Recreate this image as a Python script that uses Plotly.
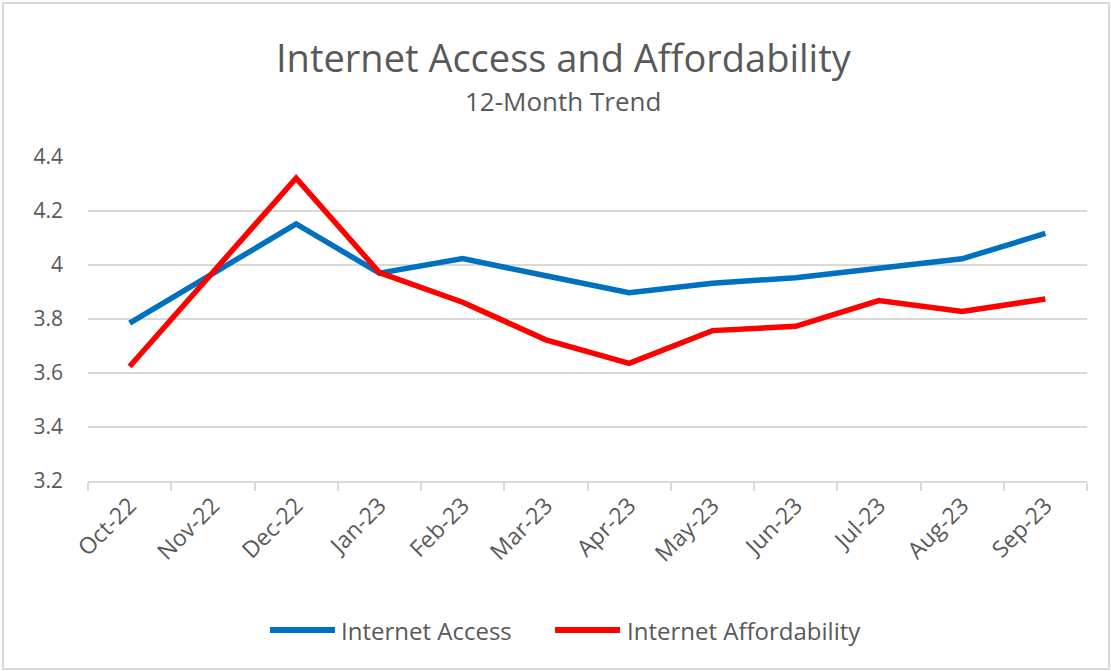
import plotly.graph_objects as go

months = ["Oct-22", "Nov-22", "Dec-22", "Jan-23", "Feb-23", "Mar-23",
          "Apr-23", "May-23", "Jun-23", "Jul-23", "Aug-23", "Sep-23"]
access = [3.785, 3.968, 4.152, 3.970, 4.024, 3.960, 3.897, 3.932, 3.953, 3.988, 4.023, 4.117]
afford = [3.624, 3.973, 4.322, 3.972, 3.862, 3.723, 3.636, 3.757, 3.773, 3.868, 3.828, 3.874]
y_ticks = [3.2, 3.4, 3.6, 3.8, 4.0, 4.2, 4.4]
y_labels = ["3.2", "3.4", "3.6", "3.8", "4", "4.2", "4.4"]
series_names = ["Internet Access", "Internet Affordability"]
series_colors = ["#0070C0", "#FF0000"]

FONT = "Open Sans, sans-serif"
GREY = "#595959"

L, R, T, B = 88, 24, 157, 190
PW, PH = 1111 - L - R, 671 - T - B

def px_x(px):
    return (px - L) / PW

def px_y(py):
    return (671 - B - py) / PH

fig = go.Figure()
for name, vals, col in zip(series_names, [access, afford], series_colors):
    fig.add_trace(go.Scatter(x=months, y=vals, mode="lines", name=name,
                             line=dict(color=col, width=5.5), showlegend=False))

fig.update_layout(
    width=1111, height=671,
    margin=dict(l=L, r=R, t=T, b=B, autoexpand=False),
    paper_bgcolor="white", plot_bgcolor="white",
    font=dict(family=FONT, color=GREY, size=18),
    showlegend=False,
)
fig.add_annotation(text="Internet Access and Affordability", xref="paper", yref="paper",
                   x=px_x(564), y=px_y(57), showarrow=False, yanchor="middle", xanchor="center",
                   font=dict(size=38, color=GREY, family=FONT))
fig.add_annotation(text="12-Month Trend", xref="paper", yref="paper",
                   x=px_x(563), y=px_y(101), showarrow=False, yanchor="middle", xanchor="center",
                   font=dict(size=26, color=GREY, family=FONT))

# manual legend (long line swatches like the original)
legend_items = [(270, 335, 339), (555, 620, 625)]
for (x0, x1, tx), name, col in zip(legend_items, series_names, series_colors):
    fig.add_shape(type="line", xref="paper", yref="paper",
                  x0=px_x(x0), x1=px_x(x1), y0=px_y(630), y1=px_y(630),
                  line=dict(color=col, width=6))
    fig.add_annotation(text=name, xref="paper", yref="paper", x=px_x(tx), y=px_y(630),
                       xanchor="left", yanchor="middle", showarrow=False,
                       font=dict(size=24, color=GREY, family=FONT))

fig.update_xaxes(type="category", range=[-0.5, 11.5], tickangle=-45, showgrid=False,
                 showline=True, linecolor="#d9d9d9", linewidth=2,
                 ticks="outside", ticklen=8, tickcolor="#d9d9d9", tickwidth=2,
                 tickson="boundaries", tickfont=dict(size=23, color=GREY), automargin=False)
fig.update_yaxes(range=[3.2, 4.4], tickvals=y_ticks, ticktext=y_labels,
                 showgrid=True, gridcolor="#d9d9d9", gridwidth=2,
                 zeroline=False, showline=False, ticks="",
                 tickfont=dict(size=21, color=GREY), ticklabelstandoff=24, automargin=False)

fig.add_shape(type="rect", xref="paper", yref="paper",
              x0=px_x(3), x1=px_x(1109), y0=px_y(669), y1=px_y(3),
              line=dict(color="#d9d9d9", width=2), layer="below")

fig.write_html("out.html", config={"displayModeBar": False},
               post_script="document.body.style.margin='0px';")
